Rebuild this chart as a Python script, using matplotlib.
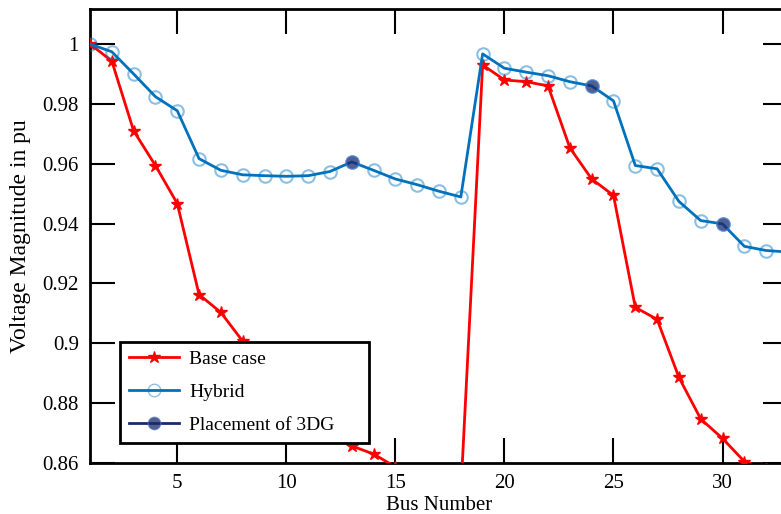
import matplotlib
matplotlib.use("Agg")
import matplotlib.pyplot as plt
from matplotlib.lines import Line2D

plt.rcParams['font.family'] = ['Liberation Serif', 'DejaVu Serif']

# Numero de bus (sistema de 33 buses)
buses = list(range(1, 34))

# Tension en pu - caso base
base_case = [1.0, 0.9943, 0.971, 0.9594, 0.9467, 0.9163, 0.9103, 0.9007,
             0.895, 0.888, 0.882, 0.874, 0.8657, 0.863, 0.8587, 0.855,
             0.852, 0.85, 0.993, 0.988, 0.9874, 0.986, 0.9653, 0.9549,
             0.9494, 0.912, 0.908, 0.8886, 0.8747, 0.8682, 0.8605, 0.858,
             0.857]

# Tension en pu - hibrido
hybrid = [1.0, 0.9974, 0.990, 0.9824, 0.9777, 0.9617, 0.9578, 0.9563,
          0.956, 0.9558, 0.956, 0.9574, 0.9606, 0.9578, 0.9549, 0.953,
          0.9508, 0.9489, 0.9967, 0.9919, 0.9906, 0.9894, 0.9874, 0.986,
          0.981, 0.9594, 0.9583, 0.9474, 0.941, 0.9399, 0.9324, 0.931,
          0.9305]

# Buses con ubicacion de los 3 DG
dg_buses = [13, 24, 30]
dg_volts = [hybrid[b - 1] for b in dg_buses]

azul = '#0072BD'
rojo = '#FF0000'
marino = '#1B2A6B'

fig = plt.figure(figsize=(7.81, 5.14), dpi=100)
ax = fig.add_axes([90 / 781, 51 / 514, 698 / 781, 454 / 514])

ax.plot(buses, base_case, color=rojo, lw=2, marker='*', ms=9,
        markerfacecolor=rojo, markeredgecolor=rojo, zorder=3)
ax.plot(buses, hybrid, color=azul, lw=2, marker='o', ms=9,
        markerfacecolor='none', markeredgecolor=(0.0, 0.45, 0.74, 0.45),
        markeredgewidth=1.5, zorder=4)
ax.plot(dg_buses, dg_volts, ls='none', marker='o', ms=9,
        markerfacecolor=(0.1, 0.16, 0.42, 0.75),
        markeredgecolor=(0.3, 0.45, 0.75, 0.6), markeredgewidth=1.5,
        zorder=5)

ax.set_xlim(1, 33)
ax.set_ylim(0.86, 1.0117)
ax.set_xticks([5, 10, 15, 20, 25, 30])
ax.set_yticks([0.86, 0.88, 0.9, 0.92, 0.94, 0.96, 0.98, 1.0])
ax.set_yticklabels(['0.86', '0.88', '0.9', '0.92', '0.94', '0.96', '0.98', '1'])
ax.tick_params(direction='in', length=18, width=1.5, labelsize=15,
               top=True, right=True, pad=8)
for s in ax.spines.values():
    s.set_linewidth(2)

ax.set_xlabel('Bus Number', fontsize=15, labelpad=2)
ax.set_ylabel('Voltage Magnitude in pu', fontsize=17, labelpad=8)

handles = [
    Line2D([], [], color=rojo, lw=2, marker='*', ms=9),
    Line2D([], [], color=azul, lw=2, marker='o', ms=9,
           markerfacecolor='none', markeredgecolor=(0.0, 0.45, 0.74, 0.45)),
    Line2D([], [], color=marino, lw=2, marker='o', ms=9,
           markerfacecolor=(0.1, 0.16, 0.42, 0.75),
           markeredgecolor=(0.3, 0.45, 0.75, 0.6)),
]
leg = ax.legend(handles, ['Base case', 'Hybrid', 'Placement of 3DG'],
                loc='lower left', mode='expand',
                bbox_to_anchor=(30 / 698, 20 / 454, 249 / 698, 0),
                borderaxespad=0, fontsize=14, fancybox=False,
                framealpha=1, edgecolor='black', handlelength=2.6,
                handletextpad=0.5, labelspacing=0.8, borderpad=0.45)
leg.get_frame().set_linewidth(2)
leg.set_zorder(10)

fig.savefig('out.png', dpi=100)
